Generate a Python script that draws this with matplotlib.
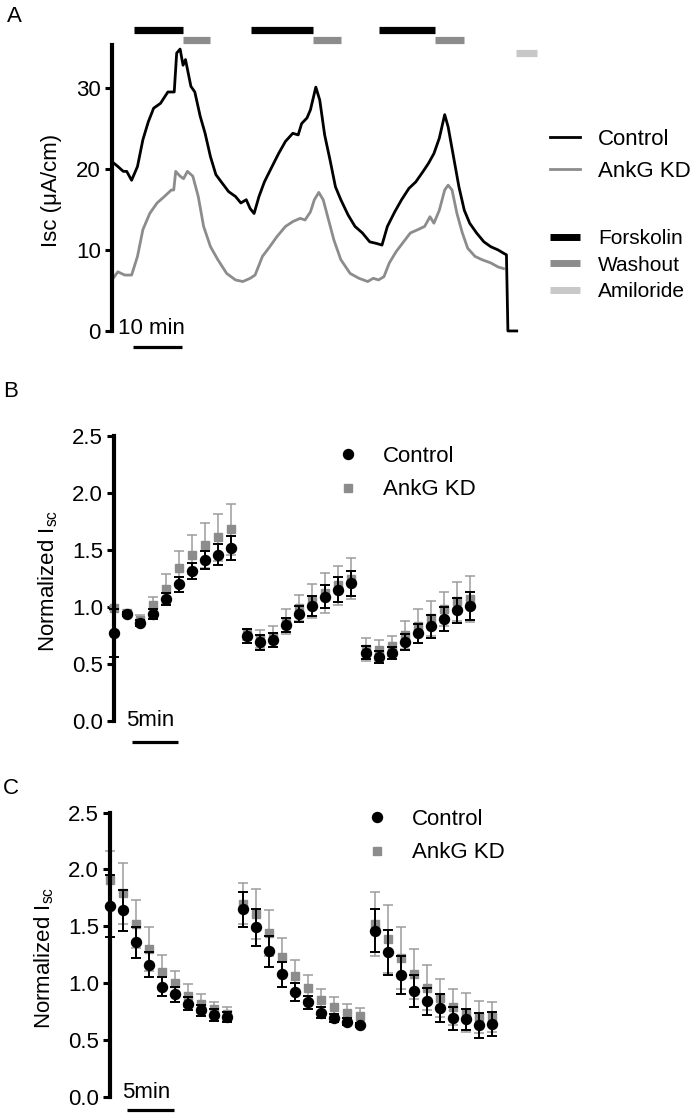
import matplotlib
matplotlib.use('Agg')
import matplotlib.pyplot as plt
from matplotlib.lines import Line2D

plt.rcParams['font.family'] = ['Liberation Sans', 'DejaVu Sans']
plt.rcParams['mathtext.fontset'] = 'custom'
plt.rcParams['mathtext.rm'] = 'Liberation Sans'
plt.rcParams['mathtext.it'] = 'Liberation Sans'

# ---- panel A: Isc traces (time in min, Isc in uA/cm) ----
ctrl_t = [0.0, 1.2, 2.3, 3.0, 4.0, 5.2, 6.3, 7.4, 8.5, 9.9, 11.4, 12.7, 13.2, 13.9, 14.5,
          15.0, 16.1, 16.9, 18.0, 19.0, 20.1, 21.2, 22.3, 23.8, 25.2, 26.3, 27.4, 28.2, 29.0, 30.0,
          31.1, 32.5, 34.0, 35.4, 36.9, 38.0, 38.7, 39.8, 40.5, 41.6, 42.4, 43.4, 44.5, 45.6, 46.7,
          48.2, 49.6, 51.1, 52.6, 54.0, 55.1, 56.2, 57.7, 59.1, 60.6, 62.0, 63.5, 64.6, 65.7, 66.8,
          67.9, 68.6, 69.7, 70.8, 71.9, 73.0, 74.4, 75.9, 77.3, 78.8, 79.9, 80.5, 80.8, 82.6]
ctrl_isc = [20.9, 20.3, 19.7, 19.7, 18.6, 20.3, 23.6, 25.8, 27.5, 28.1, 29.5, 29.5, 34.3, 34.8, 32.8,
            33.5, 30.2, 29.5, 26.5, 24.4, 21.5, 19.3, 18.4, 17.2, 16.6, 15.8, 16.2, 15.1, 14.5, 16.6,
            18.4, 20.1, 21.9, 23.4, 24.4, 24.2, 25.6, 26.3, 27.3, 30.1, 28.5, 24.2, 21.1, 17.8, 16.2,
            14.3, 12.9, 12.1, 11.0, 10.8, 10.6, 12.9, 14.7, 16.2, 17.6, 18.4, 19.7, 20.7, 21.9, 23.8,
            26.7, 25.2, 21.5, 17.8, 14.9, 13.3, 12.1, 11.0, 10.4, 10.0, 9.6, 9.4, 0.0, 0.0]
kd_t = [0.0, 1.2, 2.6, 4.0, 5.2, 6.3, 7.7, 9.2, 10.7, 12.1, 12.6, 13.0, 13.9, 14.6, 15.4,
        16.5, 17.6, 18.7, 20.1, 21.6, 23.4, 25.2, 26.7, 28.2, 29.2, 30.7, 32.2, 33.6, 35.4, 36.9,
        38.4, 39.4, 40.5, 41.3, 42.2, 43.1, 44.2, 45.3, 46.7, 48.6, 50.4, 52.2, 53.3, 54.4, 55.5,
        56.6, 58.0, 59.5, 60.9, 62.4, 63.8, 64.9, 65.7, 66.8, 67.9, 68.6, 69.4, 70.4, 71.5, 72.6,
        74.1, 75.5, 77.3, 78.8, 79.9]
kd_isc = [6.3, 7.3, 6.9, 6.9, 9.2, 12.5, 14.5, 15.8, 16.6, 17.4, 17.4, 19.7, 19.1, 18.8, 19.7,
          19.1, 16.6, 12.9, 10.4, 8.8, 7.1, 6.3, 6.1, 6.5, 6.9, 9.2, 10.4, 11.6, 12.9, 13.5,
          13.9, 13.7, 14.7, 16.2, 17.1, 16.2, 13.7, 11.2, 8.8, 7.1, 6.5, 6.1, 6.5, 6.3, 6.7,
          8.4, 9.8, 11.0, 12.1, 12.5, 12.9, 14.1, 13.3, 14.9, 17.4, 18.0, 17.4, 14.5, 12.1, 10.2,
          9.2, 8.8, 8.4, 7.9, 7.7]

forskolin = [(4.5, 14.5), (28.4, 41.0), (54.5, 66.0)]
washout = [(14.5, 20.0), (41.0, 46.7), (66.0, 71.8)]
amiloride = [(82.4, 86.7)]

# ---- panel B: forskolin response, normalized Isc ----
tB = [0.0, 1.4, 2.8, 4.2, 5.6, 7.0, 8.4, 9.8, 11.2, 12.6,
      14.3, 15.7, 17.1, 18.5, 19.9, 21.3, 22.7, 24.1, 25.5,
      27.1, 28.5, 29.9, 31.3, 32.7, 34.1, 35.5, 36.9, 38.3]
ctrl_B = [0.775, 0.94, 0.86, 0.94, 1.07, 1.20, 1.32, 1.41, 1.46, 1.52,
          0.745, 0.69, 0.71, 0.84, 0.94, 1.01, 1.09, 1.15, 1.21,
          0.60, 0.56, 0.595, 0.69, 0.77, 0.83, 0.895, 0.97, 1.01]
ctrl_B_err = [0.21, 0.02, 0.03, 0.045, 0.055, 0.065, 0.07, 0.08, 0.09, 0.105,
              0.06, 0.065, 0.065, 0.06, 0.07, 0.09, 0.10, 0.11, 0.11,
              0.055, 0.055, 0.05, 0.07, 0.085, 0.10, 0.105, 0.11, 0.12]
kd_B = [0.99, 0.95, 0.89, 1.02, 1.16, 1.34, 1.46, 1.54, 1.61, 1.68,
        0.76, 0.72, 0.74, 0.87, 0.99, 1.05, 1.12, 1.19, 1.25,
        0.63, 0.62, 0.66, 0.755, 0.83, 0.90, 0.98, 1.05, 1.07]
kd_B_err = [0.02, 0.02, 0.04, 0.07, 0.13, 0.15, 0.17, 0.20, 0.21, 0.22,
            0.05, 0.08, 0.09, 0.11, 0.115, 0.15, 0.175, 0.17, 0.18,
            0.10, 0.09, 0.09, 0.12, 0.15, 0.15, 0.15, 0.17, 0.20]

# ---- panel C: washout, normalized Isc ----
tC = [0.0, 1.4, 2.8, 4.2, 5.6, 7.0, 8.4, 9.8, 11.2, 12.6,
      14.3, 15.7, 17.1, 18.5, 19.9, 21.3, 22.7, 24.1, 25.5, 26.9,
      28.5, 29.9, 31.3, 32.7, 34.1, 35.5, 36.9, 38.3, 39.7, 41.1]
ctrl_C = [1.68, 1.64, 1.36, 1.16, 0.97, 0.90, 0.82, 0.76, 0.72, 0.70,
          1.65, 1.49, 1.28, 1.08, 0.92, 0.83, 0.74, 0.69, 0.66, 0.63,
          1.46, 1.27, 1.07, 0.93, 0.84, 0.78, 0.69, 0.68, 0.63, 0.64]
ctrl_C_err = [0.27, 0.18, 0.135, 0.11, 0.08, 0.065, 0.06, 0.05, 0.05, 0.045,
              0.155, 0.165, 0.135, 0.11, 0.08, 0.055, 0.05, 0.035, 0.03, 0.02,
              0.19, 0.195, 0.165, 0.14, 0.12, 0.125, 0.10, 0.095, 0.11, 0.105]
kd_C = [1.91, 1.79, 1.52, 1.30, 1.10, 1.00, 0.89, 0.82, 0.77, 0.73,
        1.70, 1.61, 1.44, 1.23, 1.06, 0.96, 0.85, 0.79, 0.74, 0.71,
        1.52, 1.39, 1.22, 1.08, 0.96, 0.87, 0.79, 0.74, 0.70, 0.70]
kd_C_err = [0.25, 0.27, 0.21, 0.19, 0.15, 0.11, 0.10, 0.08, 0.06, 0.06,
            0.18, 0.22, 0.20, 0.17, 0.14, 0.11, 0.10, 0.09, 0.08, 0.07,
            0.28, 0.30, 0.27, 0.22, 0.20, 0.17, 0.16, 0.17, 0.14, 0.13]

GREY = '#8c8c8c'
GREY_ERR = '#9c9c9c'
LIGHT = '#c8c8c8'
W, H = 693, 1113

fig = plt.figure(figsize=(W / 100, H / 100), dpi=100)


def px_axes(x0, y0, x1, y1):
    return fig.add_axes([x0 / W, 1 - y1 / H, (x1 - x0) / W, (y1 - y0) / H])


def style_left(ax, top, ticks):
    for s in ['top', 'right', 'bottom']:
        ax.spines[s].set_visible(False)
    ax.spines['left'].set_linewidth(3)
    ax.spines['left'].set_bounds(0, top)
    ax.spines['left'].set_position(('data', 0))
    ax.set_yticks(ticks)
    ax.set_xticks([])
    ax.tick_params(axis='y', direction='out', length=5, width=2.2, labelsize=16, pad=3)


# ---------------- A ----------------
axA = px_axes(112, 45, 540, 335)
axA.set_xlim(0, 87.35)
axA.set_ylim(-0.5, 35.3)
axA.plot(ctrl_t, ctrl_isc, color='black', lw=2, label='Control')
axA.plot(kd_t, kd_isc, color=GREY, lw=2, label='AnkG KD')
for a, b in forskolin:
    axA.plot([a, b], [37.1, 37.1], color='black', lw=5.2, solid_capstyle='butt', clip_on=False)
for a, b in washout:
    axA.plot([a, b], [35.9, 35.9], color=GREY, lw=5.2, solid_capstyle='butt', clip_on=False)
for a, b in amiloride:
    axA.plot([a, b], [34.3, 34.3], color=LIGHT, lw=5.2, solid_capstyle='butt', clip_on=False)
style_left(axA, 35.3, [0, 10, 20, 30])
axA.set_ylabel('Isc (μA/cm)', fontsize=16)
axA.yaxis.set_label_coords((62 - 112) / 428, 0.5)
axA.plot([4.3, 14.3], [-2.0, -2.0], color='black', lw=2.3, solid_capstyle='butt', clip_on=False)
axA.text(8.1, 0.25, '10 min', fontsize=16, ha='center', va='center')

legA1 = fig.legend(handles=[Line2D([], [], color='black', lw=2),
                            Line2D([], [], color=GREY, lw=2)],
                   labels=['Control', 'AnkG KD'], loc='upper left',
                   bbox_to_anchor=(550 / W, 1 - 129 / H), frameon=False, fontsize=16,
                   borderpad=0, borderaxespad=0, handlelength=1.35, handletextpad=0.8,
                   labelspacing=0.5)
legA2 = fig.legend(handles=[Line2D([], [], color='black', lw=5, solid_capstyle='butt'),
                            Line2D([], [], color=GREY, lw=5, solid_capstyle='butt'),
                            Line2D([], [], color=LIGHT, lw=5, solid_capstyle='butt')],
                   labels=['Forskolin', 'Washout', 'Amiloride'], loc='upper left',
                   bbox_to_anchor=(550 / W, 1 - 229 / H), frameon=False, fontsize=15,
                   borderpad=0, borderaxespad=0, handlelength=1.45, handletextpad=0.85,
                   labelspacing=0.37)


# ---------------- B and C ----------------
def scatter_panel(ax, t, c, ce, k, ke, xmax, bar_y, txt_y, leg_xy):
    ax.set_xlim(-1.5, xmax)
    ax.set_ylim(-0.1, 2.55)
    ax.errorbar(t, k, yerr=ke, fmt='s', color=GREY, ms=6, ecolor=GREY_ERR,
                elinewidth=1.1, capsize=3.6, capthick=1.1, zorder=2)
    ax.errorbar(t, c, yerr=ce, fmt='o', color='black', ms=7.2, ecolor='black',
                elinewidth=1.4, capsize=3.6, capthick=1.4, zorder=3)
    style_left(ax, 2.5, [0.0, 0.5, 1.0, 1.5, 2.0, 2.5])
    ax.set_yticklabels(['0.0', '0.5', '1.0', '1.5', '2.0', '2.5'])
    ax.set_ylabel('Normalized I$_{\\mathrm{sc}}$', fontsize=16)
    ax.plot([1.85, 6.85], [bar_y, bar_y], color='black', lw=2.3, solid_capstyle='butt', clip_on=False)
    ax.text(3.9, txt_y, '5min', fontsize=16, ha='center', va='center')
    fig.legend(handles=[Line2D([], [], marker='o', ls='none', color='black', ms=7.2),
                        Line2D([], [], marker='s', ls='none', color=GREY, ms=6)],
               labels=['Control', 'AnkG KD'], loc='upper left',
               bbox_to_anchor=(leg_xy[0] / W, 1 - leg_xy[1] / H), frameon=False, fontsize=16,
               borderpad=0, borderaxespad=0, handlelength=1.0, handletextpad=1.05,
               labelspacing=0.56)


axB = px_axes(100.4, 430.3, 504.5, 732.4)
scatter_panel(axB, tB, ctrl_B, ctrl_B_err, kd_B, kd_B_err, 42, -0.18, 0.0, (337, 446))
axB.yaxis.set_label_coords((60 - 100.4) / 404.1, 0.5)

axC = px_axes(96.1, 807.0, 509.5, 1108.1)
scatter_panel(axC, tC, ctrl_C, ctrl_C_err, kd_C, kd_C_err, 43, -0.12, 0.04, (366, 809))
axC.yaxis.set_label_coords((56 - 96.1) / 413.4, 0.5)

fig.text(7 / W, 1 - 16 / H, 'A', fontsize=16, va='center')
fig.text(3 / W, 1 - 392 / H, 'B', fontsize=16, va='center')
fig.text(3 / W, 1 - 788 / H, 'C', fontsize=16, va='center')

fig.savefig('out.png', dpi=100)
